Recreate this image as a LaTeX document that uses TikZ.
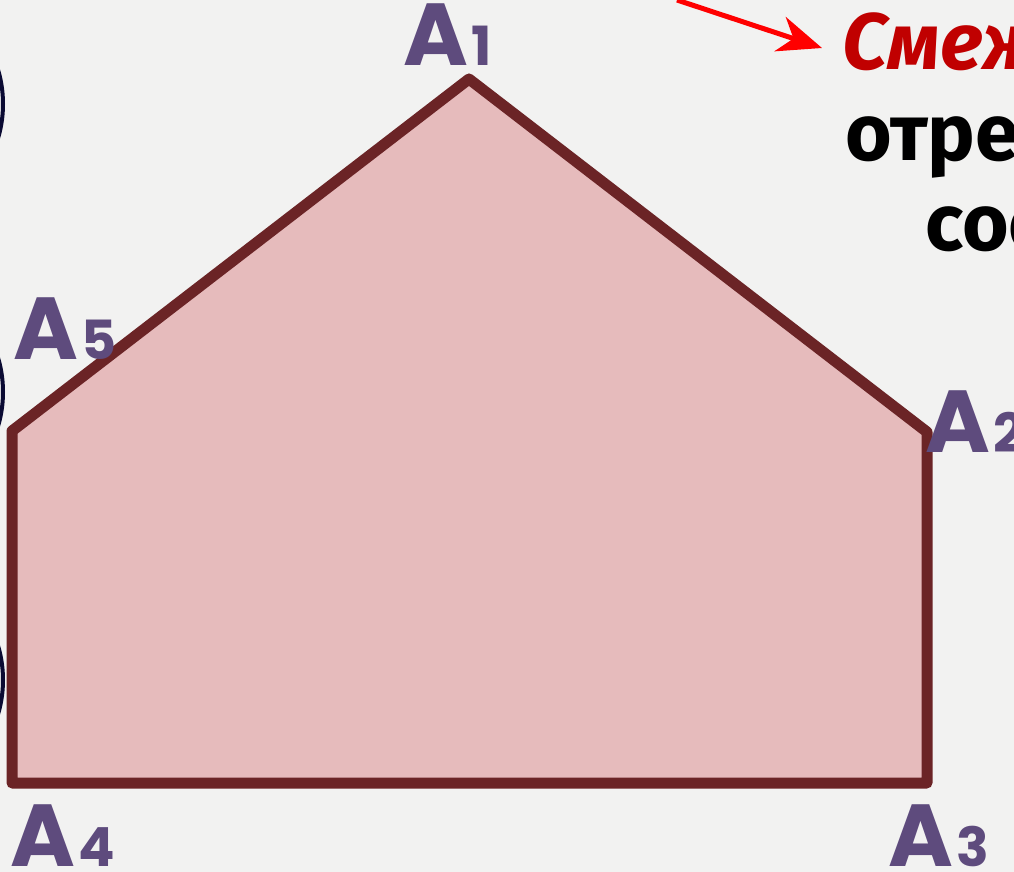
\documentclass[tikz,border=0pt]{standalone}
\usepackage{fontspec}
\setmainfont{Fira Sans}
\newfontfamily\labfont{Poppins}
\usetikzlibrary{arrows.meta}
\definecolor{bg}{HTML}{F2F2F1}
\definecolor{pentfill}{HTML}{E6BBBC}
\definecolor{pentline}{HTML}{6B2426}
\definecolor{labcol}{HTML}{5E4B7D}
\definecolor{arcnavy}{HTML}{0B0B33}
\definecolor{titlered}{HTML}{C00000}
\definecolor{arrowred}{HTML}{FF0000}
\newcommand\vnumfont{\labfont\bfseries\fontsize{54}{54}\selectfont}
\tikzset{
  vlabel/.style={text=labcol, inner sep=0pt, anchor=base west, font=\labfont\bfseries\fontsize{88}{88}\selectfont},
  sidearc/.style={draw=arcnavy, line width=4pt},
  pent/.style={draw=pentline, fill=pentfill, line width=11pt, line join=round},
  bigtext/.style={inner sep=0pt, anchor=base west, font=\bfseries\fontsize{80}{80}\selectfont}
}
\begin{document}
\begin{tikzpicture}[x=1pt,y=-1pt]
\fill[bg] (0,0) rectangle (1014,872);
\useasboundingbox (0,0) rectangle (1014,872);
\clip (0,0) rectangle (1014,872);
% partial circles at the left edge
\draw[sidearc] (-117,104) circle (120);
\draw[sidearc] (-117,392) circle (120);
\draw[sidearc] (-117,680) circle (120);
% pentagon
\coordinate (P1) at (469,79);
\coordinate (P2) at (927,432);
\coordinate (P3) at (927,783);
\coordinate (P4) at (12,783);
\coordinate (P5) at (12,431);
\draw[pent] (P1) -- (P2) -- (P3) -- (P4) -- (P5) -- cycle;
% vertex labels
\node[vlabel] (L1) at (403,66) {A\kern3pt{\vnumfont 1}};
\node[vlabel] (L2) at (925,452) {A\kern3pt{\vnumfont 2}};
\node[vlabel] (L3) at (888,866) {A\kern3pt{\vnumfont 3}};
\node[vlabel] (L4) at (10,866) {A\kern3pt{\vnumfont 4}};
\node[vlabel] (L5) at (13,359) {A\kern3pt{\vnumfont 5}};
% text at the top right
\node[bigtext, text=titlered] (T1) at (842,70) {\itshape Смеж};
\node[bigtext] (T2) at (845,160) {отрез};
\node[bigtext] (T3) at (925,250) {сое};
\coordinate (AS) at (677,0);
\coordinate (AT) at (822,48);
\draw[arrowred, line width=5pt, -{Stealth[length=44pt, width=36pt, inset=14pt]}] (AS) -- (AT);
\end{tikzpicture}
\end{document}
